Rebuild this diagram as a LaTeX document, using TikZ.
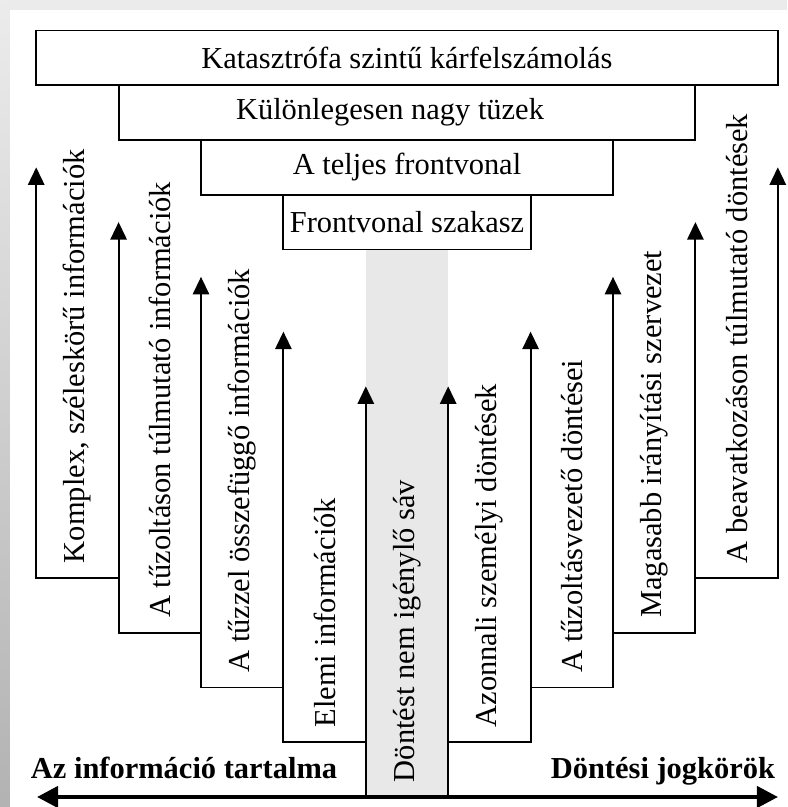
\documentclass[tikz,border=0pt]{standalone}
\usepackage{fontspec}
\setmainfont{Liberation Serif}
\definecolor{BandGray}{RGB}{232,232,232}
\definecolor{FrameGray}{RGB}{235,235,235}
\usetikzlibrary{arrows.meta, positioning, shadings}

\begin{document}
\begin{tikzpicture}[x=0.15mm, y=0.15mm, >={Triangle[length=7.5pt, width=7pt]}, line width=0.8pt,
    every node/.style={font=\fontsize{13}{15}\selectfont},
    levelbox/.style={draw, line width=0.8pt},
    collabel/.style={rotate=90, anchor=west, inner sep=0pt},
    sidelabel/.style={font=\fontsize{13}{15}\selectfont\bfseries, inner sep=0pt}]
  \def\cw{82.4} \def\rh{54.75} \def\cx{407} \def\by{10}
  % Frame
  \useasboundingbox (0,0) rectangle (787,807);
  \fill[FrameGray] (0,0) rectangle (787,807);
  \shade[top color=gray!15, bottom color=gray!60] (0,0) rectangle (10,807);
  \fill[white] (10,0) rectangle (787,797);
  % Band without decisions
  \fill[BandGray] (\cx-0.5*\cw, \by) rectangle (\cx+0.5*\cw, \by+10*\rh);
  % Levels on top
  \foreach \j/\name/\dx/\txt in {1/szakasz/0/Frontvonal szakasz, 2/frontvonal/0/A teljes frontvonal,
      3/nagytuz/-17/Különlegesen nagy tüzek, 4/katasztrofa/0/Katasztrófa szintű kárfelszámolás} {
    \draw[levelbox] (\cx-\j*\cw-0.5*\cw, \by+9*\rh+\j*\rh) rectangle (\cx+\j*\cw+0.5*\cw, \by+10*\rh+\j*\rh);
    \node (\name) at (\cx+\dx, \by+9.5*\rh+\j*\rh) {\txt};
  }
  % Stairs with arrows
  \foreach \k in {0,...,4} {
    \coordinate (lfoot\k) at (\cx-\k*\cw+0.5*\cw, \by+\k*\rh);
    \coordinate (lbend\k) at (\cx-\k*\cw-0.5*\cw, \by+\k*\rh);
    \coordinate (ltip\k) at (\cx-\k*\cw-0.5*\cw, \by+7.5*\rh+\k*\rh);
    \coordinate (rfoot\k) at (\cx+\k*\cw-0.5*\cw, \by+\k*\rh);
    \coordinate (rbend\k) at (\cx+\k*\cw+0.5*\cw, \by+\k*\rh);
    \coordinate (rtip\k) at (\cx+\k*\cw+0.5*\cw, \by+7.5*\rh+\k*\rh);
    \draw[->] (lfoot\k) -- (lbend\k) -- (ltip\k);
    \draw[->] (rfoot\k) -- (rbend\k) -- (rtip\k);
  }
  % Bottom axis
  \coordinate (infoend) at (37, \by);
  \coordinate (jogend) at (778, \by);
  \draw[{Triangle[length=9pt, width=9pt]}-{Triangle[length=9pt, width=9pt]}, line width=1.8pt] (infoend) -- (jogend);
  \node[sidelabel, anchor=base west] (info) at (30, 29) {Az információ tartalma};
  \node[sidelabel, anchor=base east] (jogkor) at (776, 29) {Döntési jogkörök};
  % Column labels
  \node[collabel] (sav) at (\cx, \by+14) {Döntést nem igénylő sáv};
  \foreach \k/\txt in {1/Elemi információk, 2/A tűzzel összefüggő információk,
      3/A tűzoltáson túlmutató információk, 4/{Komplex, széleskörű információk}} {
    \node[collabel] (linfo\k) at (\cx-\k*\cw, \by+\k*\rh+14) {\txt};
  }
  \foreach \k/\txt in {1/Azonnali személyi döntések, 2/A tűzoltásvezető döntései,
      3/Magasabb irányítási szervezet, 4/A beavatkozáson túlmutató döntések} {
    \node[collabel] (rdont\k) at (\cx+\k*\cw, \by+\k*\rh+14) {\txt};
  }
\end{tikzpicture}
\end{document}
